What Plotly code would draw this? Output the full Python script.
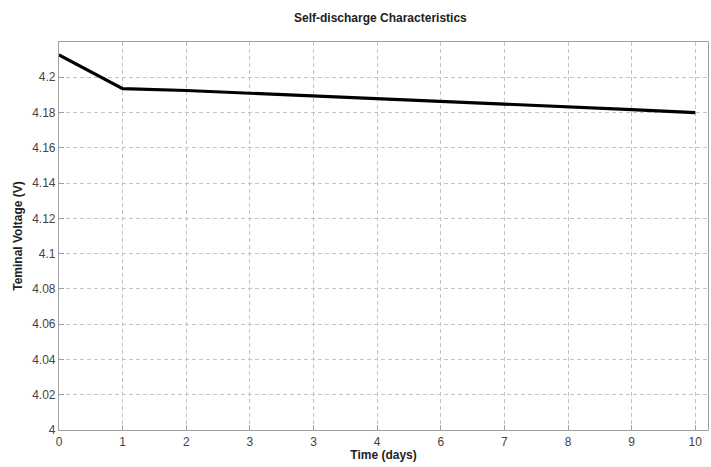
import plotly.graph_objects as go

days = [0, 1, 2, 3, 4, 5, 6, 7, 8, 9, 10]
voltage = [4.2127, 4.1936, 4.1925, 4.1910, 4.1893, 4.1879, 4.1864, 4.1847, 4.1832, 4.1817, 4.1800]
x_tick_vals = [0, 1, 2, 3, 4, 5, 6, 7, 8, 9, 10]
x_tick_text = ["0", "1", "2", "3", "3", "4", "6", "7", "8", "9", "10"]
y_tick_vals = [4.0, 4.02, 4.04, 4.06, 4.08, 4.1, 4.12, 4.14, 4.16, 4.18, 4.2]
y_tick_text = ["4", "4.02", "4.04", "4.06", "4.08", "4.1", "4.12", "4.14", "4.16", "4.18", "4.2"]

fig = go.Figure()
fig.add_trace(go.Scatter(x=days, y=voltage, mode="lines",
                         line=dict(color="black", width=3.2), showlegend=False))

font_family = "Liberation Sans, Arial, sans-serif"
fig.update_layout(
    width=711, height=467,
    margin=dict(l=59, r=3, t=42, b=37),
    paper_bgcolor="white", plot_bgcolor="white",
    title=dict(text="<b>Self-discharge Characteristics</b>", x=0.535, xanchor="center",
               y=0.962, yanchor="middle", font=dict(family=font_family, size=12, color="#222")),
    font=dict(family=font_family, size=12, color="#444"),
)
fig.update_xaxes(range=[0, 10.2], tickmode="array", tickvals=x_tick_vals, ticktext=x_tick_text,
                 showgrid=True, gridcolor="#c4c4c4", griddash="4px,3px", gridwidth=1,
                 showline=True, linecolor="#a0a0a0", linewidth=1.2, mirror=True,
                 ticks="inside", ticklen=5, tickcolor="#a0a0a0", zeroline=False,
                 title=dict(text="<b>Time (days)</b>", standoff=2, font=dict(size=12, color="#222")))
fig.update_yaxes(range=[4.0, 4.22], tickmode="array", tickvals=y_tick_vals, ticktext=y_tick_text,
                 showgrid=True, gridcolor="#c4c4c4", griddash="4px,3px", gridwidth=1,
                 showline=True, linecolor="#a0a0a0", linewidth=1.2, mirror=True,
                 ticks="inside", ticklen=5, tickcolor="#a0a0a0", zeroline=False,
                 title=dict(text="<b>Teminal Voltage (V)</b>", standoff=6, font=dict(size=12, color="#222")))

fig.write_html("out.html", config={"displayModeBar": False},
               post_script="document.body.style.margin='0';document.body.style.overflow='hidden';")
